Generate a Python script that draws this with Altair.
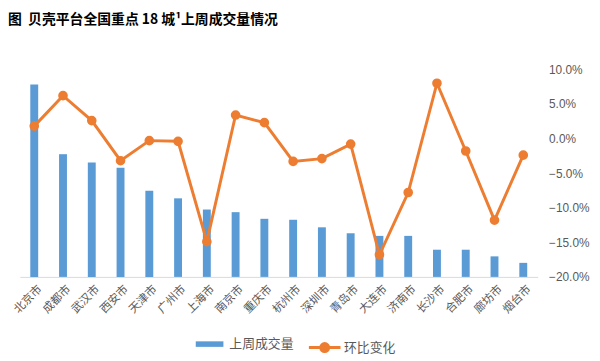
import altair as alt
import pandas as pd

cities = ["北京市", "成都市", "武汉市", "西安市", "天津市", "广州市", "上海市", "南京市", "重庆市",
          "杭州市", "深圳市", "青岛市", "大连市", "济南市", "长沙市", "合肥市", "廊坊市", "烟台市"]
volume = [2783, 1774, 1654, 1579, 1246, 1136, 974, 936, 840,
          826, 717, 631, 593, 593, 393, 393, 297, 203]
change = [1.8, 6.2, 2.6, -3.2, -0.3, -0.4, -14.9, 3.4, 2.3,
          -3.3, -2.9, -0.8, -16.8, -7.8, 8.0, -1.8, -11.8, -2.4]

df = pd.DataFrame({
    "city": cities,
    "volume": volume,
    "change": [c / 100 for c in change],
    "s1": "上周成交量",
    "s2": "环比变化",
})

BLUE = "#5B9BD5"
ORANGE = "#ED7D31"
GRAY = "#595959"
FONT = "Noto Sans CJK SC"

x = alt.X("city:N", sort=cities, title=None,
          scale=alt.Scale(paddingInner=0.72, paddingOuter=0.36),
          axis=alt.Axis(labelAngle=-45, labelColor=GRAY, labelFontSize=11.5, labelFont=FONT,
                        ticks=False, domainColor="#D9D9D9", domainWidth=1, labelPadding=6,
                        labelOffset=2))

bars = alt.Chart(df).mark_bar(size=8).encode(
    x=x,
    y=alt.Y("volume:Q", scale=alt.Scale(domain=[0, 3000]), axis=None),
    fill=alt.Fill("s1:N", scale=alt.Scale(domain=["上周成交量"], range=[BLUE]),
                  legend=alt.Legend(title=None, orient="none", legendX=178, legendY=264,
                                    symbolType="M-1,-0.2H1V0.2H-1Z", symbolSize=784,
                                    symbolStrokeWidth=0, labelColor=GRAY, labelFontSize=13,
                                    labelFont=FONT, labelOffset=6)),
)

line = alt.Chart(df).mark_line(strokeWidth=3, point=alt.OverlayMarkDef(filled=True, size=60, color=ORANGE)).encode(
    x=x,
    y=alt.Y("change:Q", scale=alt.Scale(domain=[-0.2, 0.1], nice=False),
            axis=alt.Axis(orient="right", format=".1%", values=[0.1, 0.05, 0, -0.05, -0.1, -0.15, -0.2],
                          labelColor=GRAY, labelFontSize=12, labelFont="Liberation Sans", ticks=False,
                          domain=False, grid=False, labelPadding=11, title=None)),
    stroke=alt.Stroke("s2:N", scale=alt.Scale(domain=["环比变化"], range=[ORANGE]),
                      legend=alt.Legend(title=None, orient="none", legendX=291, legendY=264,
                                        symbolType="M-1,0H1M0.25,0A0.25,0.25,0,1,1,-0.25,0A0.25,0.25,0,1,1,0.25,0",
                                        symbolSize=1024, symbolStrokeWidth=3, symbolFillColor=ORANGE,
                                        labelColor=GRAY, labelFontSize=13, labelFont=FONT, labelOffset=2)),
)

chart = alt.layer(bars, line).resolve_scale(y="independent").properties(
    width=524,
    height=210,
    autosize=alt.AutoSizeParams(type="none"),
    padding={"left": 12, "top": 60, "right": 55, "bottom": 85},
    title=alt.TitleParams("图\u00a0\u00a0贝壳平台全国重点 18 城¹上周成交量情况", anchor="start", frame="group",
                          dx=-12, offset=37, fontSize=14, fontWeight="bold", font=FONT, color="#000000"),
).configure_view(stroke=None)

chart.save("out.html", embed_options={"renderer": "svg", "actions": False})
